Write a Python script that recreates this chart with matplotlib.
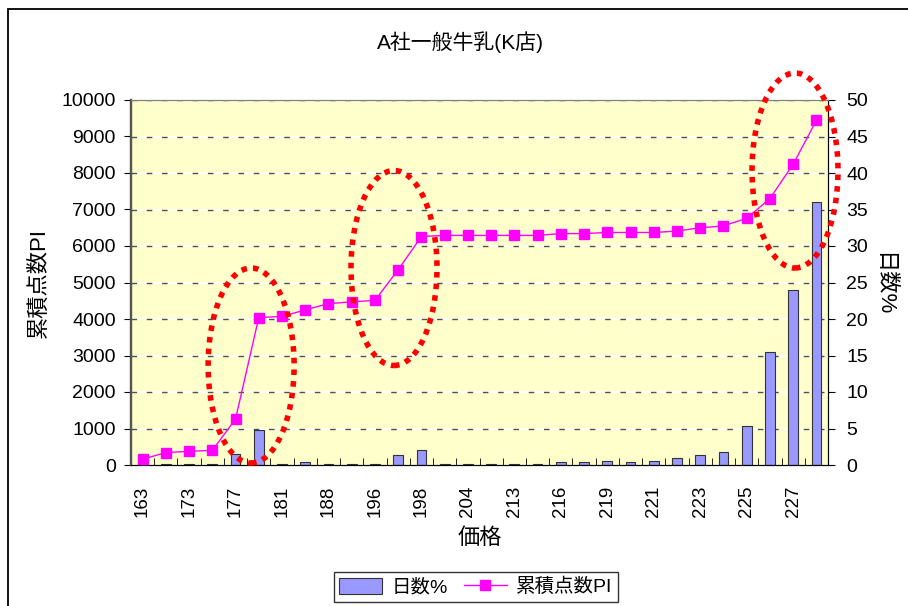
import matplotlib
matplotlib.use('Agg')
import matplotlib.pyplot as plt
from matplotlib.patches import Ellipse, Rectangle
import numpy as np

plt.rcParams['font.family'] = ['Liberation Sans', 'Noto Sans CJK JP', 'DejaVu Sans']

# 価格カテゴリ (偶数番目のみラベル表示)
prices = ['163', '170', '173', '175', '177', '178', '181', '185', '188', '190',
          '196', '197', '198', '199', '204', '210', '213', '215', '216', '218',
          '219', '220', '221', '222', '223', '224', '225', '226', '227', '228']
# 日数% (右軸, 棒)
days_pct = [0.2, 0.2, 0.2, 0.2, 1.5, 4.8, 0.2, 0.4, 0.2, 0.2,
            0.2, 1.4, 2.0, 0.2, 0.2, 0.2, 0.2, 0.2, 0.4, 0.4,
            0.6, 0.4, 0.6, 1.0, 1.4, 1.8, 5.3, 15.5, 24.0, 36.0]
# 累積点数PI (左軸, 折れ線)
cum_pi = [160, 340, 375, 400, 1260, 4040, 4070, 4250, 4420, 4470,
          4510, 5350, 6260, 6290, 6290, 6290, 6290, 6290, 6340, 6340,
          6370, 6370, 6370, 6410, 6500, 6550, 6760, 7300, 8240, 9440]

# 注目箇所の楕円 (中心x, 中心y)
highlights = [(4.67, 2726), (10.82, 5397), (28.08, 8068)]

x = np.arange(len(prices))

fig = plt.figure(figsize=(9.08, 6.06), dpi=100)
ax = fig.add_axes([131/908, 1-465/606, 697/908, 365/606])
ax2 = ax.twinx()

# 背景と罫線
ax.set_facecolor('#FFFFCC')
ax.set_ylim(0, 50)
ax.set_xlim(-0.5, len(prices) - 0.5)
for v in range(5, 51, 5):
    ax.axhline(v, color='white', lw=1.2, zorder=0.5)
    ax.axhline(v, color='#505050', lw=1.0, dashes=(4, 7), zorder=0.6)

bars = ax.bar(x, days_pct, width=0.42, color='#9999FF', edgecolor='#333333',
              lw=0.8, label='日数%', zorder=2)

line, = ax2.plot(x, cum_pi, color='#FF00FF', lw=1, marker='s', ms=7,
                 mec='#FF00FF', label='累積点数PI', zorder=3)
ax2.set_ylim(0, 10000)
ax2.set_xlim(-0.5, len(prices) - 0.5)

for cx, cy in highlights:
    e = Ellipse((cx, cy), 3.7, 5342, fill=False, edgecolor='red', lw=4,
                linestyle=(0, (1, 1.1)), clip_on=False, zorder=5)
    ax2.add_patch(e)

# 軸の配置: 棒は右軸, 折れ線は左軸
ax.yaxis.tick_right()
ax2.yaxis.tick_left()
ax2.yaxis.set_label_position('left')
ax.set_yticks(range(0, 51, 5))
ax2.set_yticks(range(0, 10001, 1000))
ax.tick_params(axis='y', labelsize=14, direction='out', length=5, pad=8)
ax2.tick_params(axis='y', labelsize=14, direction='out', length=5, pad=6)

ax.set_xticks(x[::2])
ax.set_xticklabels(prices[::2], rotation=90, fontsize=13.5)
ax.set_xticks(np.arange(-0.5, len(prices), 1), minor=True)
ax.tick_params(axis='x', which='major', length=0, pad=15)
ax.tick_params(axis='x', which='minor', direction='in', length=5)

for a in (ax, ax2):
    a.spines['top'].set_color('#808080')
    a.spines['bottom'].set_color('black')
    a.spines['right'].set_color('black')
    a.spines['left'].set_color('#555555')
    a.spines['left'].set_linewidth(1.6)

ax2.set_ylabel('累積点数PI', fontsize=16, labelpad=8)
ax.set_xlabel('価格', fontsize=16, labelpad=8)
# 右軸ラベルは位置を直接指定
fig.text(883/908, 1-284/606, '日数%', rotation=270, ha='center', va='center',
         fontsize=16)

fig.text(0.507, 1-42/606, 'A社一般牛乳(K店)', ha='center', va='center', fontsize=15)

leg = fig.legend([bars, line], ['日数%', '累積点数PI'], loc='center',
                 bbox_to_anchor=(476/908, 1-587/606), ncol=2, fontsize=14,
                 frameon=True, fancybox=False, edgecolor='black',
                 handlelength=2.2, handleheight=0.9, columnspacing=0.8,
                 borderpad=0.3, handletextpad=0.5)
leg.get_frame().set_linewidth(1)

# 外枠
fig.patches.append(Rectangle((8/908, -0.1), 1.2, 1.1 - 9/606,
                             transform=fig.transFigure, fill=False,
                             edgecolor='black', lw=1.3))

fig.savefig('out.png', dpi=100)
